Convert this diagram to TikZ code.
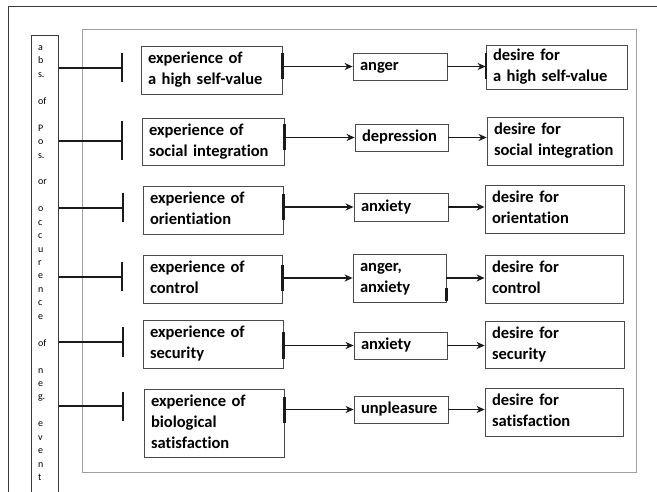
\documentclass[tikz,border=0pt]{standalone}
\usepackage{fontspec}
\setmainfont{Carlito}[Ligatures=NoCommon]
\usetikzlibrary{arrows.meta}
\definecolor{boxline}{HTML}{4A4A4A}
\definecolor{linkcol}{HTML}{1A1A1A}
\definecolor{framegray}{HTML}{A0A0A0}
\definecolor{outerline}{HTML}{3A3A3A}
\begin{document}
\begin{tikzpicture}[x=1pt,y=-1pt,
  cell/.style={draw=boxline, line width=0.8pt,
    font=\bfseries\fontsize{16.5}{21}\selectfont, align=left,
    inner xsep=7pt, inner ysep=0pt,
    execute at begin node=\strut, execute at end node=\strut},
  link/.style={draw=linkcol, line width=1.4pt},
  arrowlink/.style={link, -{Stealth[length=8pt,width=7pt]}},
  tbar/.style={draw=linkcol, line width=2.2pt},
  block/.style={link, -{Bar[width=#1,line width=2.2pt]}},
  block/.default=29pt,
  letter/.style={font=\fontsize{10}{11}\selectfont, inner sep=0pt, anchor=base west},
]
\useasboundingbox (0,0) rectangle (657,492);
\clip (0,0) rectangle (657,492);

% outer frame (only top and left edges fall on the page)
\draw[outerline, line width=1pt] (8,520) -- (8,7) -- (680,7);
% inner frame
\draw[framegray, line width=1pt] (82,30) rectangle (636,472);

% vertical label column
\node[draw=outerline, line width=0.9pt, minimum width=27pt, minimum height=500pt,
      inner sep=0pt, anchor=north west] (lb) at (31,35) {};
\foreach \i/\t in {0/a,1/b,2/s.,4/of,6/P,7/o,8/s.,10/or,12/o,13/c,14/c,15/u,16/r,
                   17/e,18/n,19/c,20/e,22/of,24/n,25/e,26/g.,28/e,29/v,30/e,31/n,32/t}
  \node[letter] (w\i) at (37.8,{50.5+13.44*\i}) {\t};

% experience boxes
\node[cell, minimum width=141pt, minimum height=48pt, text width=127pt] (e1) at (211.5,70) {experience of\\a high self-value};
\node[cell, minimum width=142pt, minimum height=47pt, text width=128pt] (e2) at (213,141.5) {experience of\\social integration};
\node[cell, minimum width=140pt, minimum height=48pt, text width=126pt] (e3) at (213,210) {experience of\\orientiation};
\node[cell, minimum width=139pt, minimum height=48pt, text width=125pt] (e4) at (212.5,279) {experience of\\control};
\node[cell, minimum width=140pt, minimum height=48pt, text width=126pt] (e5) at (213,344) {experience of\\security};
\node[cell, minimum width=140pt, minimum height=68pt, text width=126pt] (e6) at (214,423) {experience of\\biological\\satisfaction};

% emotion boxes
\node[cell, minimum width=94pt, minimum height=27pt, text width=80pt] (m1) at (400,66.5) {anger};
\node[cell, minimum width=93pt, minimum height=27pt, text width=79pt] (m2) at (401.5,137.5) {depression};
\node[cell, minimum width=94pt, minimum height=28pt, text width=80pt] (m3) at (401,207) {anxiety};
\node[cell, minimum width=93pt, minimum height=48pt, text width=79pt] (m4) at (399.5,278) {anger,\\anxiety};
\node[cell, minimum width=93pt, minimum height=27pt, text width=79pt] (m5) at (400.5,345.5) {anxiety};
\node[cell, minimum width=94pt, minimum height=27pt, text width=80pt] (m6) at (401,409.5) {unpleasure};

% desire boxes
\node[cell, minimum width=141pt, minimum height=44pt, text width=127pt] (d1) at (556.5,67) {desire for\\a high self-value};
\node[cell, minimum width=136pt, minimum height=48pt, text width=122pt] (d2) at (555,141) {desire for\\social integration};
\node[cell, minimum width=139pt, minimum height=48pt, text width=125pt] (d3) at (554.5,209) {desire for\\orientation};
\node[cell, minimum width=138pt, minimum height=48pt, text width=124pt] (d4) at (554,279) {desire for\\control};
\node[cell, minimum width=139pt, minimum height=47pt, text width=125pt] (d5) at (554.5,344.5) {desire for\\security};
\node[cell, minimum width=138pt, minimum height=48pt, text width=124pt] (d6) at (554,412) {desire for\\satisfaction};

% inhibition ends of the blocking links
\coordinate (i1) at (123,68);
\coordinate (i2) at (123,141);
\coordinate (i3) at (124,208);
\coordinate (i4) at (123,277);
\coordinate (i5) at (124,342);
\coordinate (i6) at (124,406);
\draw[block] (lb.east |- i1) -- (i1);
\draw[block=39pt] (lb.east |- i2) -- (i2);
\foreach \k in {3,4,5,6}
  \draw[block] (lb.east |- i\k) -- (i\k);

% experience -> emotion
\foreach \k in {1,...,6}{
  \draw[arrowlink] (e\k.east |- m\k.west) -- (m\k.west);
  \draw[tbar] ([yshift=-13pt]e\k.east |- m\k.west) -- ([yshift=13pt]e\k.east |- m\k.west);
}

% emotion -> desire
\foreach \k in {1,...,6}
  \draw[arrowlink] (m\k.east) -- (m\k.east -| d\k.west);
\draw[tbar] ([yshift=-13pt]m1.east -| d1.west) -- ([yshift=13pt]m1.east -| d1.west);
\draw[tbar] ([yshift=-10pt]m4.east) -- ([yshift=1pt]m4.south east);
\end{tikzpicture}
\end{document}
